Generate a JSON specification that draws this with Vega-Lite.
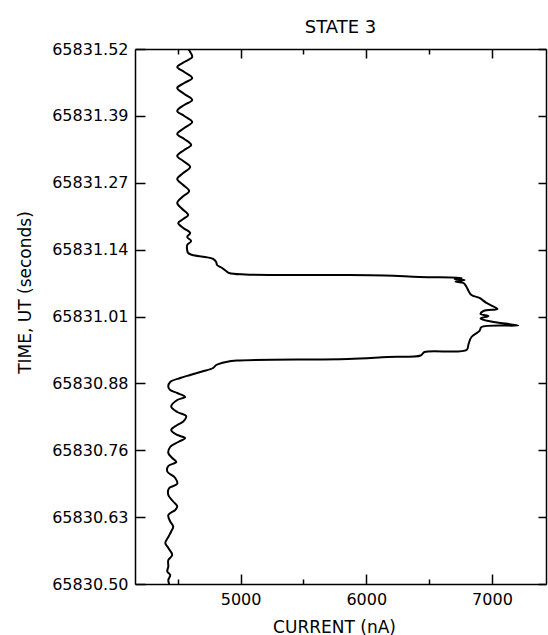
{
  "$schema": "https://vega.github.io/schema/vega-lite/v6.json",
  "width": 411,
  "height": 535,
  "autosize": {"type": "none"},
  "padding": {"left": 135, "top": 49, "right": 2, "bottom": 51},
  "title": {"text": "STATE  3", "fontSize": 18, "font": "DejaVu Sans", "fontWeight": "normal", "color": "black", "offset": 21, "dy": 31, "baseline": "alphabetic", "anchor": "middle"},
  "config": {"view": {"stroke": null}, "font": "DejaVu Sans"},
  "data": {"values": [
    {"time": 65831.5200, "current": 4583},
    {"time": 65831.5143, "current": 4599},
    {"time": 65831.5048, "current": 4615},
    {"time": 65831.4952, "current": 4552},
    {"time": 65831.4857, "current": 4496},
    {"time": 65831.4762, "current": 4552},
    {"time": 65831.4647, "current": 4615},
    {"time": 65831.4552, "current": 4552},
    {"time": 65831.4457, "current": 4496},
    {"time": 65831.4342, "current": 4552},
    {"time": 65831.4228, "current": 4615},
    {"time": 65831.4133, "current": 4552},
    {"time": 65831.4018, "current": 4496},
    {"time": 65831.3923, "current": 4552},
    {"time": 65831.3808, "current": 4615},
    {"time": 65831.3694, "current": 4552},
    {"time": 65831.3580, "current": 4496},
    {"time": 65831.3484, "current": 4552},
    {"time": 65831.3370, "current": 4607},
    {"time": 65831.3275, "current": 4552},
    {"time": 65831.3160, "current": 4496},
    {"time": 65831.3065, "current": 4544},
    {"time": 65831.2951, "current": 4599},
    {"time": 65831.2836, "current": 4544},
    {"time": 65831.2722, "current": 4496},
    {"time": 65831.2607, "current": 4544},
    {"time": 65831.2493, "current": 4591},
    {"time": 65831.2379, "current": 4536},
    {"time": 65831.2264, "current": 4496},
    {"time": 65831.2150, "current": 4536},
    {"time": 65831.2035, "current": 4583},
    {"time": 65831.1959, "current": 4544},
    {"time": 65831.1883, "current": 4504},
    {"time": 65831.1788, "current": 4544},
    {"time": 65831.1692, "current": 4599},
    {"time": 65831.1616, "current": 4575},
    {"time": 65831.1540, "current": 4607},
    {"time": 65831.1463, "current": 4575},
    {"time": 65831.1368, "current": 4575},
    {"time": 65831.1311, "current": 4583},
    {"time": 65831.1273, "current": 4615},
    {"time": 65831.1235, "current": 4718},
    {"time": 65831.1197, "current": 4782},
    {"time": 65831.1139, "current": 4806},
    {"time": 65831.1082, "current": 4813},
    {"time": 65831.1025, "current": 4853},
    {"time": 65831.0968, "current": 4885},
    {"time": 65831.0930, "current": 4909},
    {"time": 65831.0901, "current": 5036},
    {"time": 65831.0891, "current": 5710},
    {"time": 65831.0882, "current": 6147},
    {"time": 65831.0853, "current": 6425},
    {"time": 65831.0834, "current": 6758},
    {"time": 65831.0815, "current": 6703},
    {"time": 65831.0796, "current": 6782},
    {"time": 65831.0767, "current": 6710},
    {"time": 65831.0739, "current": 6774},
    {"time": 65831.0663, "current": 6798},
    {"time": 65831.0586, "current": 6814},
    {"time": 65831.0510, "current": 6837},
    {"time": 65831.0453, "current": 6901},
    {"time": 65831.0358, "current": 6956},
    {"time": 65831.0281, "current": 7020},
    {"time": 65831.0243, "current": 7044},
    {"time": 65831.0205, "current": 6933},
    {"time": 65831.0148, "current": 6909},
    {"time": 65831.0110, "current": 6972},
    {"time": 65831.0062, "current": 6909},
    {"time": 65830.9995, "current": 7012},
    {"time": 65830.9929, "current": 7210},
    {"time": 65830.9900, "current": 6917},
    {"time": 65830.9824, "current": 6901},
    {"time": 65830.9709, "current": 6837},
    {"time": 65830.9576, "current": 6814},
    {"time": 65830.9461, "current": 6798},
    {"time": 65830.9423, "current": 6464},
    {"time": 65830.9357, "current": 6433},
    {"time": 65830.9328, "current": 6171},
    {"time": 65830.9290, "current": 5853},
    {"time": 65830.9261, "current": 4972},
    {"time": 65830.9233, "current": 4885},
    {"time": 65830.9175, "current": 4806},
    {"time": 65830.9118, "current": 4782},
    {"time": 65830.9052, "current": 4694},
    {"time": 65830.8985, "current": 4599},
    {"time": 65830.8928, "current": 4520},
    {"time": 65830.8851, "current": 4440},
    {"time": 65830.8756, "current": 4425},
    {"time": 65830.8699, "current": 4440},
    {"time": 65830.8642, "current": 4496},
    {"time": 65830.8565, "current": 4559},
    {"time": 65830.8508, "current": 4496},
    {"time": 65830.8384, "current": 4448},
    {"time": 65830.8279, "current": 4496},
    {"time": 65830.8203, "current": 4567},
    {"time": 65830.8098, "current": 4544},
    {"time": 65830.8031, "current": 4496},
    {"time": 65830.7936, "current": 4448},
    {"time": 65830.7841, "current": 4496},
    {"time": 65830.7784, "current": 4559},
    {"time": 65830.7707, "current": 4504},
    {"time": 65830.7612, "current": 4440},
    {"time": 65830.7498, "current": 4425},
    {"time": 65830.7402, "current": 4456},
    {"time": 65830.7326, "current": 4488},
    {"time": 65830.7250, "current": 4425},
    {"time": 65830.7145, "current": 4417},
    {"time": 65830.7021, "current": 4480},
    {"time": 65830.6907, "current": 4496},
    {"time": 65830.6830, "current": 4432},
    {"time": 65830.6697, "current": 4425},
    {"time": 65830.6573, "current": 4464},
    {"time": 65830.6478, "current": 4496},
    {"time": 65830.6411, "current": 4480},
    {"time": 65830.6316, "current": 4425},
    {"time": 65830.6192, "current": 4440},
    {"time": 65830.6096, "current": 4464},
    {"time": 65830.6001, "current": 4448},
    {"time": 65830.5896, "current": 4425},
    {"time": 65830.5782, "current": 4401},
    {"time": 65830.5686, "current": 4425},
    {"time": 65830.5553, "current": 4456},
    {"time": 65830.5458, "current": 4425},
    {"time": 65830.5334, "current": 4425},
    {"time": 65830.5238, "current": 4417},
    {"time": 65830.5172, "current": 4440},
    {"time": 65830.5076, "current": 4425},
    {"time": 65830.5000, "current": 4432}
  ]},
  "layer": [
    {
      "mark": {"type": "line", "color": "black", "strokeWidth": 2, "strokeJoin": "round", "interpolate": "catmull-rom", "clip": true},
      "encoding": {
        "x": {"field": "current", "type": "quantitative",
          "scale": {"domain": [4160, 7430], "nice": false, "zero": false},
          "axis": {"orient": "bottom", "title": "CURRENT (nA)", "values": [4500, 5000, 5500, 6000, 6500, 7000],
            "format": "d", "labelExpr": "datum.value % 1000 === 0 ? datum.label : ''",
            "tickSize": {"condition": {"test": "datum.value % 1000 === 0", "value": -10}, "value": -5},
            "tickColor": "black", "tickWidth": 1.5, "domainColor": "black", "domainWidth": 1.5,
            "labelFontSize": 16, "labelColor": "black", "labelPadding": 17, "labelFont": "DejaVu Sans",
            "titleFontSize": 17, "titleFontWeight": "normal", "titleColor": "black", "titleFont": "DejaVu Sans",
            "titleX": 199, "titleY": 48, "titleBaseline": "alphabetic", "titleAnchor": null, "grid": false}},
        "y": {"field": "time", "type": "quantitative",
          "scale": {"domain": [65830.5, 65831.52], "nice": false, "zero": false},
          "axis": {"orient": "left", "title": "TIME, UT (seconds)",
            "values": [65830.5, 65830.6275, 65830.755, 65830.8825, 65831.01, 65831.1375, 65831.265, 65831.3925, 65831.52],
            "labelExpr": "format(datum.value + 0.0001, '.2f')",
            "tickSize": -10, "tickColor": "black", "tickWidth": 1.5, "domainColor": "black", "domainWidth": 1.5,
            "labelFontSize": 16, "labelColor": "black", "labelPadding": 17, "labelFont": "DejaVu Sans",
            "titleFontSize": 17, "titleFontWeight": "normal", "titleColor": "black", "titleFont": "DejaVu Sans",
            "titleAngle": -90, "titleX": -110, "titleY": 243, "titleAlign": "center", "titleBaseline": "middle", "titleAnchor": null, "grid": false}},
        "order": {"field": "time", "type": "quantitative"}
      }
    },
    {
      "mark": {"type": "line", "strokeOpacity": 0},
      "encoding": {
        "x": {"field": "current", "type": "quantitative",
          "scale": {"domain": [4160, 7430], "nice": false, "zero": false},
          "axis": {"orient": "top", "title": null, "labels": false, "values": [4500, 5000, 5500, 6000, 6500, 7000],
            "tickSize": {"condition": {"test": "datum.value % 1000 === 0", "value": -9}, "value": -5},
            "tickColor": "black", "tickWidth": 1.5, "domainColor": "black", "domainWidth": 1.5, "grid": false}},
        "y": {"field": "time", "type": "quantitative",
          "scale": {"domain": [65830.5, 65831.52], "nice": false, "zero": false},
          "axis": {"orient": "right", "title": null, "labels": false,
            "values": [65830.5, 65830.6275, 65830.755, 65830.8825, 65831.01, 65831.1375, 65831.265, 65831.3925, 65831.52],
            "tickSize": -8, "tickColor": "black", "tickWidth": 1.5, "domainColor": "black", "domainWidth": 1.5, "grid": false}},
        "order": {"field": "time", "type": "quantitative"}
      }
    }
  ],
  "resolve": {"scale": {"x": "independent", "y": "independent"}}
}
